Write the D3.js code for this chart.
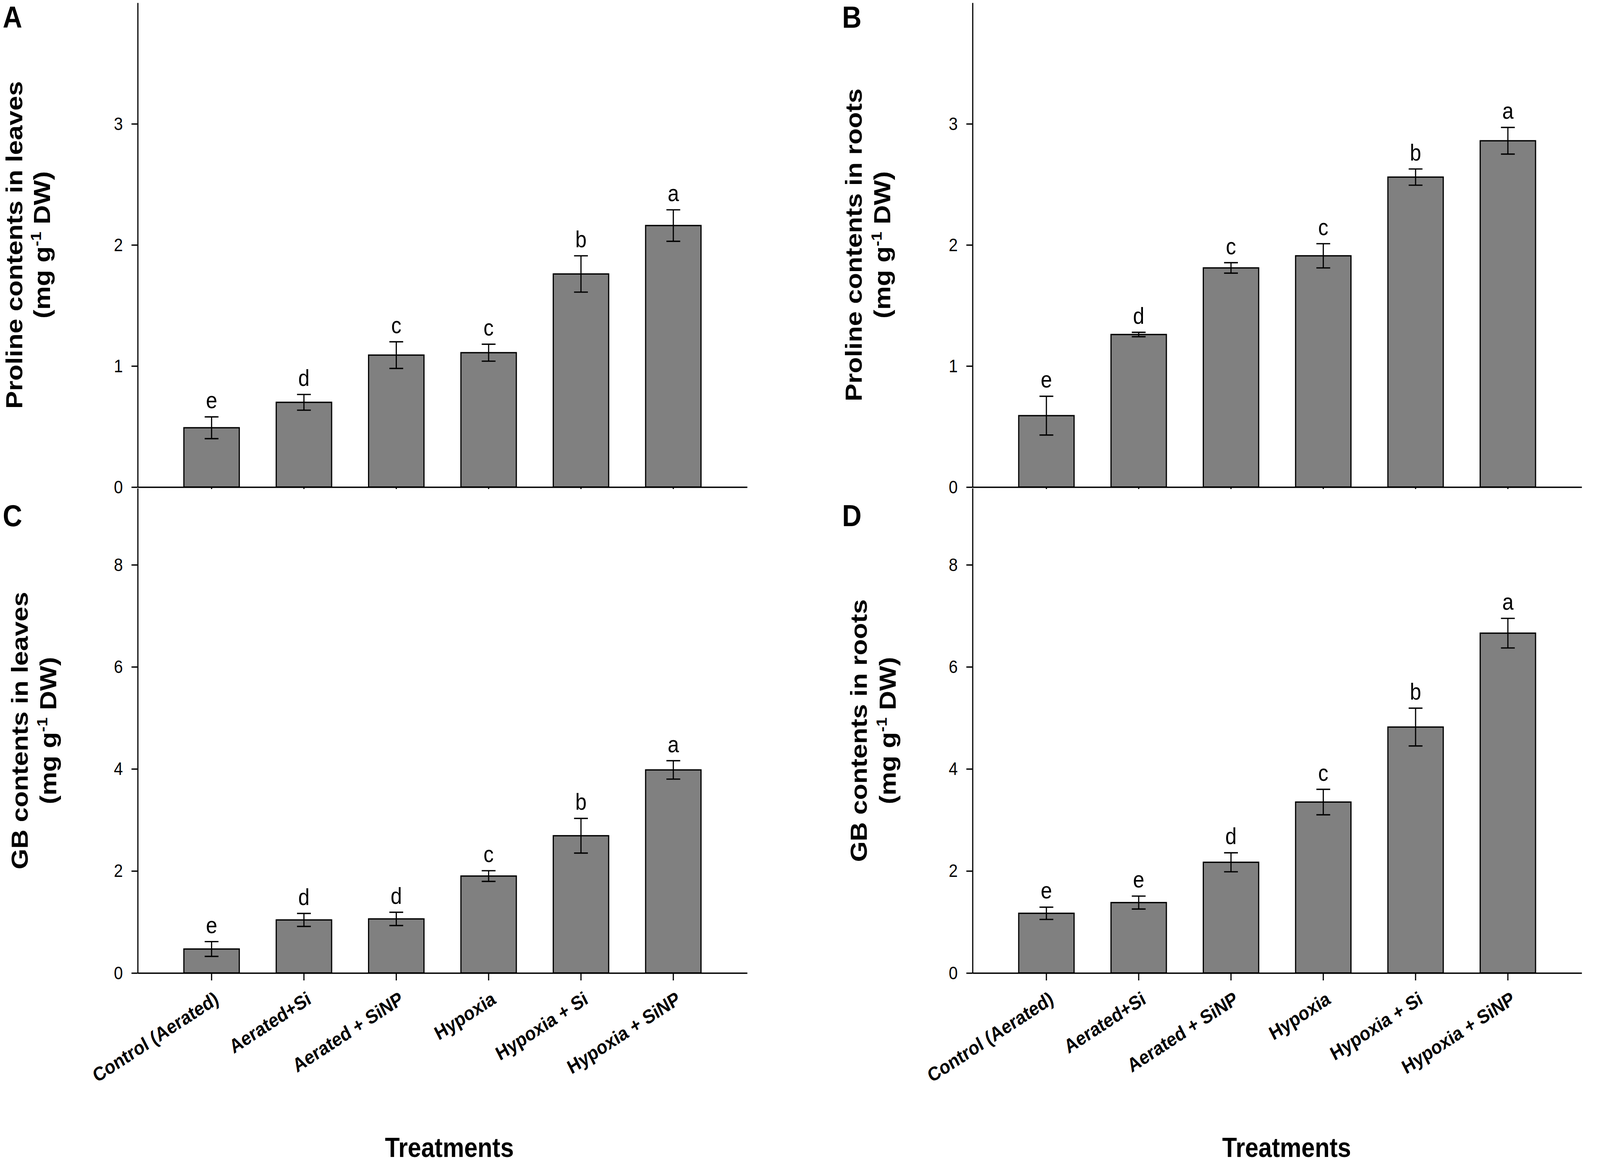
<!DOCTYPE html>
<html>
<head>
<meta charset="utf-8">
<script src="https://cdn.jsdelivr.net/npm/d3@7/dist/d3.min.js"></script>
<style>
  html, body { margin: 0; padding: 0; background: #ffffff; overflow: hidden; width: 100%; height: 100%; }
  svg { display: block; width: 100vw; height: 100vh; }
  text { font-family: "Liberation Sans", Arial, Helvetica, sans-serif; fill: #000; }
</style>
</head>
<body>
<script>
// ---------------- data ----------------
const categories = ["Control (Aerated)", "Aerated+Si", "Aerated + SiNP", "Hypoxia", "Hypoxia + Si", "Hypoxia + SiNP"];

const prolineLeaves        = [0.49, 0.70, 1.09, 1.11, 1.76, 2.16];
const prolineLeavesErr     = [0.09, 0.065, 0.11, 0.07, 0.15, 0.13];
const prolineLeavesLetters = ["e", "d", "c", "c", "b", "a"];

const prolineRoots         = [0.59, 1.26, 1.81, 1.91, 2.56, 2.86];
const prolineRootsErr      = [0.16, 0.018, 0.043, 0.10, 0.067, 0.11];
const prolineRootsLetters  = ["e", "d", "c", "c", "b", "a"];

const gbLeaves             = [0.47, 1.04, 1.06, 1.90, 2.69, 3.98];
const gbLeavesErr          = [0.145, 0.127, 0.13, 0.105, 0.34, 0.18];
const gbLeavesLetters      = ["e", "d", "d", "c", "b", "a"];

const gbRoots              = [1.17, 1.38, 2.17, 3.35, 4.82, 6.66];
const gbRootsErr           = [0.12, 0.127, 0.186, 0.25, 0.37, 0.29];
const gbRootsLetters       = ["e", "e", "d", "c", "b", "a"];

const prolineTicks = [0, 1, 2, 3];
const gbTicks      = [0, 2, 4, 6, 8];
const prolineMax   = 4;
const gbMax        = 9.5;

const panelLetters = ["A", "B", "C", "D"];
const yTitles = [
  "Proline contents in leaves",
  "Proline contents in roots",
  "GB contents in leaves",
  "GB contents in roots"
];
const xTitle = "Treatments";

// ---------------- layout ----------------
const W = 4636, H = 2980;
const svg = d3.select("body").append("svg")
  .attr("viewBox", `0 0 ${W} ${H}`)
  .attr("preserveAspectRatio", "none");
svg.append("rect").attr("width", W).attr("height", H).attr("fill", "#fff");

const panels = [
  { letter: panelLetters[0], title: yTitles[0], vals: prolineLeaves, errs: prolineLeavesErr, letters: prolineLeavesLetters,
    ticks: prolineTicks, ymax: prolineMax, x0: 399, x1: 2165, top: 7, bottom: 1247,
    tx1: 64, tx2: 145, lx: 8, ly: 71, xTickSize: 5, showX: false },
  { letter: panelLetters[1], title: yTitles[1], vals: prolineRoots, errs: prolineRootsErr, letters: prolineRootsLetters,
    ticks: prolineTicks, ymax: prolineMax, x0: 2818, x1: 4583, top: 7, bottom: 1247,
    tx1: 2497, tx2: 2580, lx: 2440, ly: 71, xTickSize: 5, showX: false },
  { letter: panelLetters[2], title: yTitles[2], vals: gbLeaves, errs: gbLeavesErr, letters: gbLeavesLetters,
    ticks: gbTicks, ymax: gbMax, x0: 399, x1: 2165, top: 1250, bottom: 2491,
    tx1: 80, tx2: 163, lx: 8, ly: 1347, xTickSize: 19, showX: true, xtx: 1302 },
  { letter: panelLetters[3], title: yTitles[3], vals: gbRoots, errs: gbRootsErr, letters: gbRootsLetters,
    ticks: gbTicks, ymax: gbMax, x0: 2818, x1: 4583, top: 1250, bottom: 2491,
    tx1: 2512, tx2: 2595, lx: 2440, ly: 1347, xTickSize: 19, showX: true, xtx: 3728 }
];

const STROKE = 3.4;

panels.forEach(p => {
  const g = svg.append("g");
  const x = d3.scaleBand().domain(categories).range([p.x0, p.x1]).paddingInner(0.4).paddingOuter(0.5);
  const y = d3.scaleLinear().domain([0, p.ymax]).range([p.bottom, p.top]);

  // bars
  g.selectAll("rect.bar").data(p.vals).join("rect")
    .attr("class", "bar")
    .attr("x", (d, i) => x(categories[i]))
    .attr("width", x.bandwidth())
    .attr("y", d => y(d))
    .attr("height", d => y(0) - y(d))
    .attr("fill", "#808080")
    .attr("stroke", "#000")
    .attr("stroke-width", STROKE);

  // error bars
  const cx = i => x(categories[i]) + x.bandwidth() / 2;
  const cap = 20;
  const eg = g.append("g").attr("stroke", "#000").attr("stroke-width", STROKE);
  p.vals.forEach((v, i) => {
    const e = p.errs[i];
    eg.append("line").attr("x1", cx(i)).attr("x2", cx(i)).attr("y1", y(v + e)).attr("y2", y(v - e));
    eg.append("line").attr("x1", cx(i) - cap).attr("x2", cx(i) + cap).attr("y1", y(v + e)).attr("y2", y(v + e));
    eg.append("line").attr("x1", cx(i) - cap).attr("x2", cx(i) + cap).attr("y1", y(v - e)).attr("y2", y(v - e));
  });

  // significance letters
  g.selectAll("text.sig").data(p.letters).join("text")
    .attr("class", "sig")
    .attr("x", (d, i) => cx(i))
    .attr("y", (d, i) => y(p.vals[i] + p.errs[i]) - 22)
    .attr("text-anchor", "middle")
    .attr("font-size", 59)
    .text(d => d);

  // y axis
  const ya = g.append("g").attr("transform", `translate(${p.x0},0)`)
    .call(d3.axisLeft(y).tickValues(p.ticks).tickFormat(d3.format("d")).tickSize(18).tickSizeOuter(0).tickPadding(25));
  ya.selectAll("path, line").attr("stroke", "#000").attr("stroke-width", STROKE);
  ya.selectAll("text").attr("font-size", 47).attr("font-family", "Liberation Sans, Arial, sans-serif").attr("fill", "#000");

  // x axis
  const xa = g.append("g").attr("transform", `translate(0,${p.bottom})`)
    .call(d3.axisBottom(x).tickSize(p.xTickSize).tickSizeOuter(0).tickFormat(""));
  xa.selectAll("path, line").attr("stroke", "#000").attr("stroke-width", STROKE);

  if (p.showX) {
    g.selectAll("text.xl").data(categories).join("text")
      .attr("class", "xl")
      .attr("text-anchor", "end")
      .attr("font-size", 50)
      .attr("font-weight", "bold")
      .attr("transform", (d, i) => `translate(${cx(i) + 24},${p.bottom + 76}) rotate(-30)`)
      .text(d => d);
    g.append("text")
      .attr("x", p.xtx).attr("y", 2962)
      .attr("text-anchor", "middle")
      .attr("font-size", 70)
      .attr("font-weight", "bold")
      .text(xTitle);
  }

  // y title (two lines)
  const cy = (p.top + p.bottom) / 2;
  g.append("text")
    .attr("transform", `translate(${p.tx1},${cy}) rotate(-90)`)
    .attr("text-anchor", "middle")
    .attr("font-size", 68)
    .attr("font-weight", "bold")
    .text(p.title);
  const t2 = g.append("text")
    .attr("transform", `translate(${p.tx2},${cy}) rotate(-90)`)
    .attr("text-anchor", "middle")
    .attr("font-size", 68)
    .attr("font-weight", "bold");
  t2.append("tspan").text("(mg g");
  t2.append("tspan").attr("dy", -26).attr("font-size", 42).text("-1");
  t2.append("tspan").attr("dy", 26).text(" DW)");

  // panel letter
  g.append("text")
    .attr("x", p.lx).attr("y", p.ly)
    .attr("font-size", 78)
    .attr("font-weight", "bold")
    .text(p.letter);
});
</script>
</body>
</html>
